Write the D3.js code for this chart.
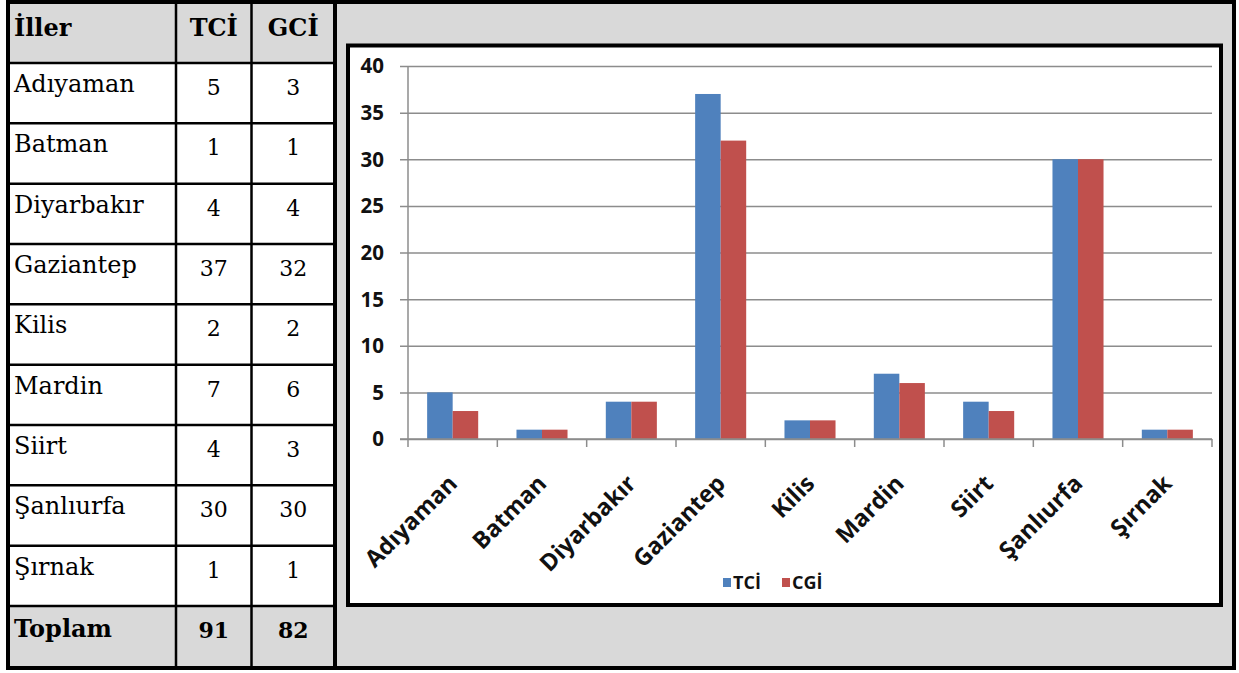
<!DOCTYPE html>
<html>
<head>
<meta charset="utf-8">
<script src="https://cdn.jsdelivr.net/npm/d3@7"></script>
<style>
  html, body { margin: 0; padding: 0; background: #ffffff; }
  svg { display: block; }
</style>
</head>
<body>
<svg id="fig" width="1239" height="673"></svg>
<script>
// Province list and the two counts per province
const provinces = ["Adıyaman", "Batman", "Diyarbakır", "Gaziantep", "Kilis", "Mardin", "Siirt", "Şanlıurfa", "Şırnak"];
const tciValues = [5, 1, 4, 37, 2, 7, 4, 30, 1];
const gciValues = [3, 1, 4, 32, 2, 6, 3, 30, 1];

// Table labels
const tableHeaders = ["İller", "TCİ", "GCİ"];
const totalLabel = "Toplam";

// Chart series names (legend) and y-axis ticks
const seriesNames = ["TCİ", "CGİ"];
const seriesColors = ["#4f81bd", "#c0504d"];
const yTicks = [0, 5, 10, 15, 20, 25, 30, 35, 40];

const svg = d3.select("#fig");
const GRAY = "#d9d9d9";

// ---------- background panel ----------
svg.append("rect").attr("x", 8).attr("y", 2).attr("width", 1226).attr("height", 666)
  .attr("fill", GRAY);

// ---------- table ----------
const tbl = { x0: 10, x1: 335, colX: [10, 176, 251.5, 335], headTop: 2, headBottom: 63, rowH: 60.33 };
const nRows = provinces.length;
const rowTop = i => tbl.headBottom + i * tbl.rowH;
const totalTop = rowTop(nRows);
const totalBottom = 668;

const tableG = svg.append("g");
// body rows white
tableG.append("rect").attr("x", tbl.x0).attr("y", tbl.headBottom)
  .attr("width", tbl.x1 - tbl.x0).attr("height", totalTop - tbl.headBottom).attr("fill", "#ffffff");

// horizontal rules
const hLines = d3.range(nRows + 1).map(i => rowTop(i));
tableG.selectAll("line.h").data(hLines).join("line")
  .attr("x1", tbl.x0).attr("x2", tbl.x1).attr("y1", d => d).attr("y2", d => d)
  .attr("stroke", "#000").attr("stroke-width", 2.5);
// vertical rules
tableG.selectAll("line.v").data([tbl.colX[1], tbl.colX[2]]).join("line")
  .attr("x1", d => d).attr("x2", d => d).attr("y1", tbl.headTop).attr("y2", totalBottom)
  .attr("stroke", "#000").attr("stroke-width", 2.5);
// right border of table
tableG.append("line").attr("x1", 335).attr("x2", 335).attr("y1", 0).attr("y2", 670)
  .attr("stroke", "#000").attr("stroke-width", 4);

const serif = "'DejaVu Serif', 'Liberation Serif', serif";
const colCenter = c => (tbl.colX[c] + tbl.colX[c + 1]) / 2;

// header
tableG.selectAll("text.head").data(tableHeaders).join("text")
  .attr("x", (d, i) => i === 0 ? 14 : colCenter(i))
  .attr("y", 36)
  .attr("text-anchor", (d, i) => i === 0 ? "start" : "middle")
  .attr("font-family", serif).attr("font-weight", "bold").attr("font-size", 24)
  .attr("fill", "#000").text(d => d);

// body rows
provinces.forEach((p, i) => {
  const base = rowTop(i) + 29;
  tableG.append("text").attr("x", 14).attr("y", base)
    .attr("font-family", serif).attr("font-size", 24).attr("fill", "#000").text(p);
  [tciValues[i], gciValues[i]].forEach((v, j) => {
    tableG.append("text").attr("x", colCenter(j + 1)).attr("y", base + 3)
      .attr("text-anchor", "middle")
      .attr("font-family", serif).attr("font-size", 22).attr("fill", "#000").text(v);
  });
});

// total row
const totals = [d3.sum(tciValues), d3.sum(gciValues)];
tableG.append("text").attr("x", 14).attr("y", totalTop + 31)
  .attr("font-family", serif).attr("font-weight", "bold").attr("font-size", 24)
  .attr("fill", "#000").text(totalLabel);
totals.forEach((v, j) => {
  tableG.append("text").attr("x", colCenter(j + 1)).attr("y", totalTop + 32)
    .attr("text-anchor", "middle")
    .attr("font-family", serif).attr("font-weight", "bold").attr("font-size", 22)
    .attr("fill", "#000").text(v);
});

// ---------- chart box ----------
svg.append("rect").attr("x", 348).attr("y", 45.5).attr("width", 873).attr("height", 559.5)
  .attr("fill", "#ffffff").attr("stroke", "#000").attr("stroke-width", 4);

const plot = { left: 408, right: 1212, top: 66, bottom: 439 };
const sans = "'Open Sans', 'DejaVu Sans', sans-serif";

const x = d3.scaleBand().domain(provinces).range([plot.left, plot.right]).paddingInner(0).paddingOuter(0);
const xs = d3.scaleBand().domain(seriesNames).range([0, x.bandwidth()]).paddingInner(0).paddingOuter(0.75);
const y = d3.scaleLinear().domain([0, 40]).range([plot.bottom, plot.top]);

const chart = svg.append("g");

// gridlines (extend 8px left of the axis as tick marks)
const yG = chart.append("g").attr("transform", `translate(${plot.right},0)`)
  .call(d3.axisLeft(y).tickValues(yTicks).tickSize(plot.right - plot.left + 8).tickFormat(""));
yG.select(".domain").remove();
yG.selectAll(".tick line").attr("stroke", "#8c8c8c").attr("stroke-width", 1.5);

// y labels
chart.append("g").selectAll("text").data(yTicks).join("text")
  .attr("x", 384).attr("y", d => y(d)).attr("dy", "0.36em")
  .attr("text-anchor", "end")
  .attr("font-family", sans).attr("font-weight", "bold").attr("font-size", 20.5)
  .attr("fill", "#111").text(d => d);

// vertical axis line
chart.append("line").attr("x1", plot.left).attr("x2", plot.left)
  .attr("y1", plot.top).attr("y2", plot.bottom)
  .attr("stroke", "#8c8c8c").attr("stroke-width", 1.5);

// bars
const rows = provinces.map((p, i) => ({ p, vals: [tciValues[i], gciValues[i]] }));
chart.append("g").selectAll("g").data(rows).join("g")
  .attr("transform", d => `translate(${x(d.p)},0)`)
  .selectAll("rect").data(d => d.vals.map((v, k) => ({ k, v })))
  .join("rect")
  .attr("x", d => xs(seriesNames[d.k]))
  .attr("width", xs.bandwidth())
  .attr("y", d => y(d.v))
  .attr("height", d => y(0) - y(d.v))
  .attr("fill", d => seriesColors[d.k]);

// x axis with category boundary ticks
const xAxisG = chart.append("g");
xAxisG.append("line").attr("x1", plot.left - 8).attr("x2", plot.right)
  .attr("y1", plot.bottom).attr("y2", plot.bottom)
  .attr("stroke", "#8c8c8c").attr("stroke-width", 1.5);
const boundaries = provinces.map(p => x(p)).concat([plot.right]);
xAxisG.selectAll("line.t").data(boundaries).join("line")
  .attr("x1", d => d).attr("x2", d => d)
  .attr("y1", plot.bottom).attr("y2", plot.bottom + 8)
  .attr("stroke", "#8c8c8c").attr("stroke-width", 1.5);

// rotated category labels
xAxisG.selectAll("text").data(provinces).join("text")
  .attr("transform", d => `translate(${x(d) + x.bandwidth() / 2 + 6},${plot.bottom + 46}) rotate(-45)`)
  .attr("text-anchor", "end")
  .attr("font-family", sans).attr("font-weight", "bold").attr("font-size", 23.5)
  .attr("fill", "#111").text(d => d);

// legend
const legend = chart.append("g");
const legendX = [723, 782];
seriesNames.forEach((s, k) => {
  legend.append("rect").attr("x", legendX[k]).attr("y", 578).attr("width", 8).attr("height", 9)
    .attr("fill", seriesColors[k]);
  legend.append("text").attr("x", legendX[k] + 10).attr("y", 589)
    .attr("font-family", sans).attr("font-weight", "bold").attr("font-size", 18)
    .attr("fill", "#111").text(s);
});

// outer frame
svg.append("rect").attr("x", 8).attr("y", 2).attr("width", 1226).attr("height", 666)
  .attr("fill", "none").attr("stroke", "#000").attr("stroke-width", 4);
</script>
</body>
</html>
